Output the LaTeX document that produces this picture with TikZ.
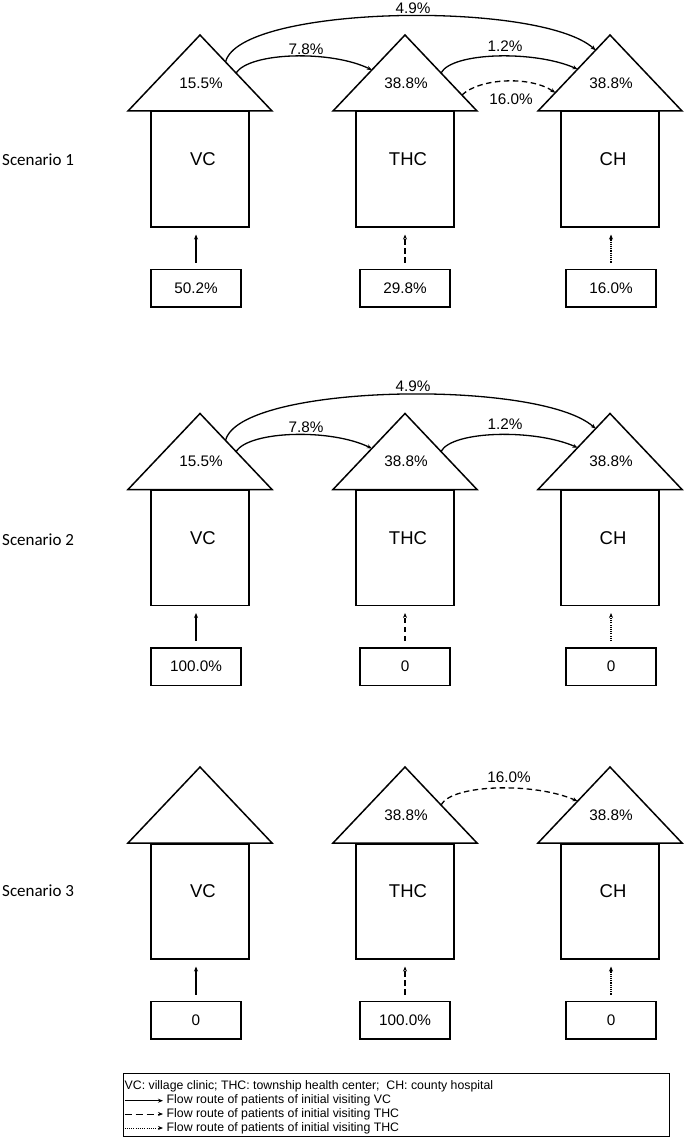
\documentclass[tikz,border=0pt]{standalone}
\usepackage{fontspec}
\setmainfont{Liberation Sans}
\newfontfamily\calib{Carlito}
\usetikzlibrary{calc,arrows.meta}
\tikzset{
  hutline/.style={draw, line width=1.5pt, line join=miter},
  pct/.style={font=\fontsize{15.3}{18}\selectfont, inner sep=0pt},
  nm/.style={font=\fontsize{18.5}{21}\selectfont, inner sep=0pt},
  inbox/.style={draw, line width=1.5pt, minimum width=90pt, minimum height=37.5pt, inner sep=0pt, font=\fontsize{15.3}{18}\selectfont},
  flowsolid/.style={line width=1.3pt, -{Stealth[length=5pt,width=4pt]}},
  flowdash/.style={flowsolid, dash pattern=on 5.5pt off 3.5pt},
  flowdot/.style={flowsolid, dash pattern=on 1.1pt off 1.1pt},
  scen/.style={font=\calib\fontsize{17}{20}\selectfont, anchor=west, inner sep=0pt},
  legtext/.style={font=\fontsize{12.3}{14}\selectfont, anchor=west, inner sep=0pt},
  legflow/.style={line width=1pt, -{Stealth[length=5pt,width=4pt]}},
}
% #1 prefix, #2 x, #3 offset, #4 name, #5 percent
\newcommand{\hut}[5]{%
  \coordinate (#1a) at (#2,35+#3);
  \coordinate (#1l) at (#2-72,111+#3);
  \coordinate (#1r) at (#2+72,111+#3);
  \draw[hutline] (#1l) -- (#1a) -- (#1r) -- cycle;
  \node[hutline, minimum width=98pt, minimum height=115pt, inner sep=0pt, anchor=north] (#1b) at (#2,111+#3) {};
  \node[nm] (#1n) at (#2+3,159.5+#3) {#4};
  \node[pct] (#1p) at (#2+1,83+#3) {#5};
}
% #1 prefix, #2 x, #3 offset, #4 text, #5 style
\newcommand{\inp}[5]{%
  \node[inbox] (#1i) at (#2,288+#3) {#4};
  \path (#1i.north |- #1b.south) coordinate (#1t);
  \draw[#5] ([yshift=6pt]#1i.north) -- ([yshift=-7pt]#1t);
}
% #1 scenario suffix, #2 offset
\newcommand{\mainarcs}[2]{%
  \coordinate (s49#1) at ($(A#1a)!0.355!(A#1r)$);
  \coordinate (e49#1) at ($(C#1a)!0.2!(C#1l)$);
  \draw[flowsolid] (s49#1) .. controls +(14,-57) and +(-56,-50) .. (e49#1);
  \node[pct] (l49#1) at (413,8+#2) {4.9\%};
  \coordinate (s78#1) at ($(A#1a)!0.5!(A#1r)$);
  \coordinate (e78#1) at ($(B#1a)!0.46!(B#1l)$);
  \draw[flowsolid] (s78#1) .. controls +(14,-21) and +(-41,-20) .. (e78#1);
  \node[pct] (l78#1) at (306,49+#2) {7.8\%};
  \coordinate (s12#1) at ($(B#1a)!0.5!(B#1r)$);
  \coordinate (e12#1) at ($(C#1a)!0.45!(C#1l)$);
  \draw[flowsolid] (s12#1) .. controls +(11,-21) and +(-43,-19) .. (e12#1);
  \node[pct] (l12#1) at (505,46+#2) {1.2\%};
}
\begin{document}
\begin{tikzpicture}[x=1pt,y=-1pt]
\useasboundingbox (0,0) rectangle (685,1137);
\fill[white] (0,0) rectangle (685,1137);

% Scenario 1
\node[scen] (sc1) at (2,160) {Scenario 1};
\hut{A1}{200}{0}{VC}{15.5\%}
\hut{B1}{405}{0}{THC}{38.8\%}
\hut{C1}{610}{0}{CH}{38.8\%}
\inp{A1}{196}{0}{50.2\%}{flowsolid}
\inp{B1}{405}{0}{29.8\%}{flowdash}
\inp{C1}{611}{0}{16.0\%}{flowdot}
\mainarcs{1}{0}
\coordinate (s16a) at ($(B1a)!0.79!(B1r)$);
\coordinate (e16a) at ($(C1a)!0.76!(C1l)$);
\draw[flowdash] (s16a) .. controls +(18,-17) and +(-25,-17) .. (e16a);
\node[pct] (l16a) at (511,99) {16.0\%};

% Scenario 2
\node[scen] (sc2) at (2,540) {Scenario 2};
\hut{A2}{200}{378.5}{VC}{15.5\%}
\hut{B2}{405}{378.5}{THC}{38.8\%}
\hut{C2}{610}{378.5}{CH}{38.8\%}
\inp{A2}{196}{378.5}{100.0\%}{flowsolid}
\inp{B2}{405}{378.5}{0}{flowdash}
\inp{C2}{611}{378.5}{0}{flowdot}
\mainarcs{2}{378.5}

% Scenario 3
\node[scen] (sc3) at (2,891) {Scenario 3};
\hut{A3}{200}{732}{VC}{}
\hut{B3}{405}{732}{THC}{38.8\%}
\hut{C3}{610}{732}{CH}{38.8\%}
\inp{A3}{196}{732}{0}{flowsolid}
\inp{B3}{405}{732}{100.0\%}{flowdash}
\inp{C3}{611}{732}{0}{flowdot}
\coordinate (s16c) at ($(B3a)!0.5!(B3r)$);
\coordinate (e16c) at ($(C3a)!0.45!(C3l)$);
\draw[flowdash] (s16c) .. controls +(11,-21) and +(-43,-19) .. (e16c);
\node[pct] (l16c) at (509,777) {16.0\%};

% Legend
\node[draw, line width=0.9pt, minimum width=546pt, minimum height=63pt, inner sep=0pt, anchor=north west] (leg) at (122.7,1073) {};
\node[legtext] (lg1) at (124.5,1086.7) {VC: village clinic; THC: township health center; \ CH: county hospital};
\coordinate (la2) at (124.5,1100.7); \coordinate (lb2) at (163,1100.7);
\draw[legflow] (la2) -- (lb2);
\node[legtext] (lg2) at (166.5,1100.7) {Flow route of patients of initial visiting VC};
\coordinate (la3) at (124.5,1114); \coordinate (lb3) at (163,1114);
\draw[legflow, dash pattern=on 7pt off 4pt] (la3) -- (lb3);
\node[legtext] (lg3) at (166.5,1114) {Flow route of patients of initial visiting THC};
\coordinate (la4) at (124.5,1128); \coordinate (lb4) at (163,1128);
\draw[legflow, dash pattern=on 1pt off 1.2pt] (la4) -- (lb4);
\node[legtext] (lg4) at (166.5,1128) {Flow route of patients of initial visiting THC};
\end{tikzpicture}
\end{document}
